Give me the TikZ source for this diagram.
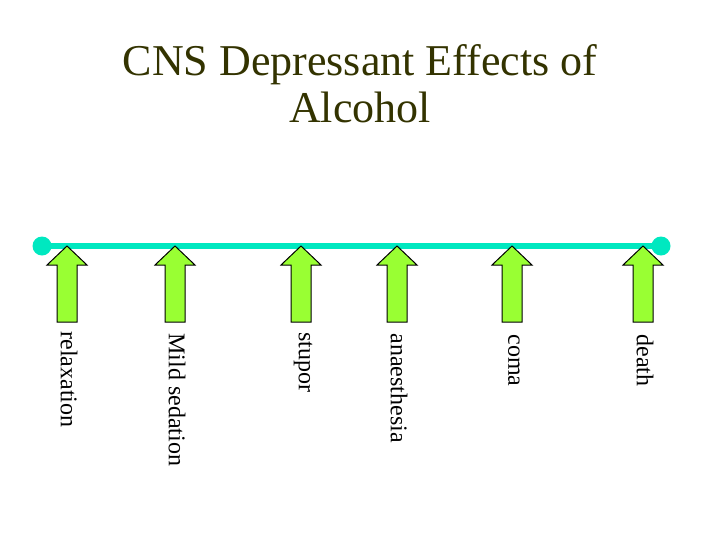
\documentclass[tikz,border=0pt]{standalone}
\usepackage{fontspec}
\setmainfont{Liberation Serif}
\tikzset{every picture/.style={line width=0.75pt}}
\tikzset{effect/.style={fill={rgb, 255:red, 153; green, 255; blue, 51 }, draw={rgb, 255:red, 0; green, 0; blue, 0 }, line width=0.75}}
\tikzset{stage/.style={anchor=west, inner sep=0pt, rotate=-90, font=\fontsize{18}{20}\selectfont}}

\begin{document}
\begin{tikzpicture}[x=0.75pt,y=0.75pt,yscale=-1,xscale=1]
%set diagram left start at 0, and has height of 540
\path (0,0) rectangle (720,540);

% Text Node
\draw (360,44) node (title) [anchor=north, inner sep=0pt, align=center, font=\fontsize{33}{35}\selectfont, color={rgb, 255:red, 51; green, 51; blue, 0 }] {CNS Depressant Effects of\\Alcohol};

%Straight Lines [id:timeline]
\coordinate (start) at (42,246);
\coordinate (end) at (661,246);
\draw [color={rgb, 255:red, 0; green, 232; blue, 192 }, line width=4.5] (start) -- (end);
\fill [color={rgb, 255:red, 0; green, 232; blue, 192 }] (start) circle (9.5);
\fill [color={rgb, 255:red, 0; green, 232; blue, 192 }] (end) circle (9.5);

%Points on the timeline
\coordinate (relax) at (67,246);
\coordinate (mild) at (175,246);
\coordinate (stup) at (301,246);
\coordinate (anaes) at (397,246);
\coordinate (com) at (512,246);
\coordinate (dead) at (643,246);

%Shape: Up Arrow
\draw [effect] (relax) -- ++(20,19) -- ++(-10,0) -- ++(0,57) -- ++(-20,0) -- ++(0,-57) -- ++(-10,0) -- cycle;
%Shape: Up Arrow
\draw [effect] (mild) -- ++(20,19) -- ++(-10,0) -- ++(0,57) -- ++(-20,0) -- ++(0,-57) -- ++(-10,0) -- cycle;
%Shape: Up Arrow
\draw [effect] (stup) -- ++(20,19) -- ++(-10,0) -- ++(0,57) -- ++(-20,0) -- ++(0,-57) -- ++(-10,0) -- cycle;
%Shape: Up Arrow
\draw [effect] (anaes) -- ++(20,19) -- ++(-10,0) -- ++(0,57) -- ++(-20,0) -- ++(0,-57) -- ++(-10,0) -- cycle;
%Shape: Up Arrow
\draw [effect] (com) -- ++(20,19) -- ++(-10,0) -- ++(0,57) -- ++(-20,0) -- ++(0,-57) -- ++(-10,0) -- cycle;
%Shape: Up Arrow
\draw [effect] (dead) -- ++(20,19) -- ++(-10,0) -- ++(0,57) -- ++(-20,0) -- ++(0,-57) -- ++(-10,0) -- cycle;

% Text Node
\path (relax) ++(2,85) node (relaxation) [stage] {relaxation};
% Text Node
\path (mild) ++(2,87) node (sedation) [stage] {Mild sedation};
% Text Node
\path (stup) ++(2,86) node (stupor) [stage] {stupor};
% Text Node
\path (anaes) ++(2,87) node (anaesthesia) [stage] {anaesthesia};
% Text Node
\path (com) ++(2,88) node (coma) [stage] {coma};
% Text Node
\path (dead) ++(2,88) node (death) [stage] {death};

\end{tikzpicture}
\end{document}
